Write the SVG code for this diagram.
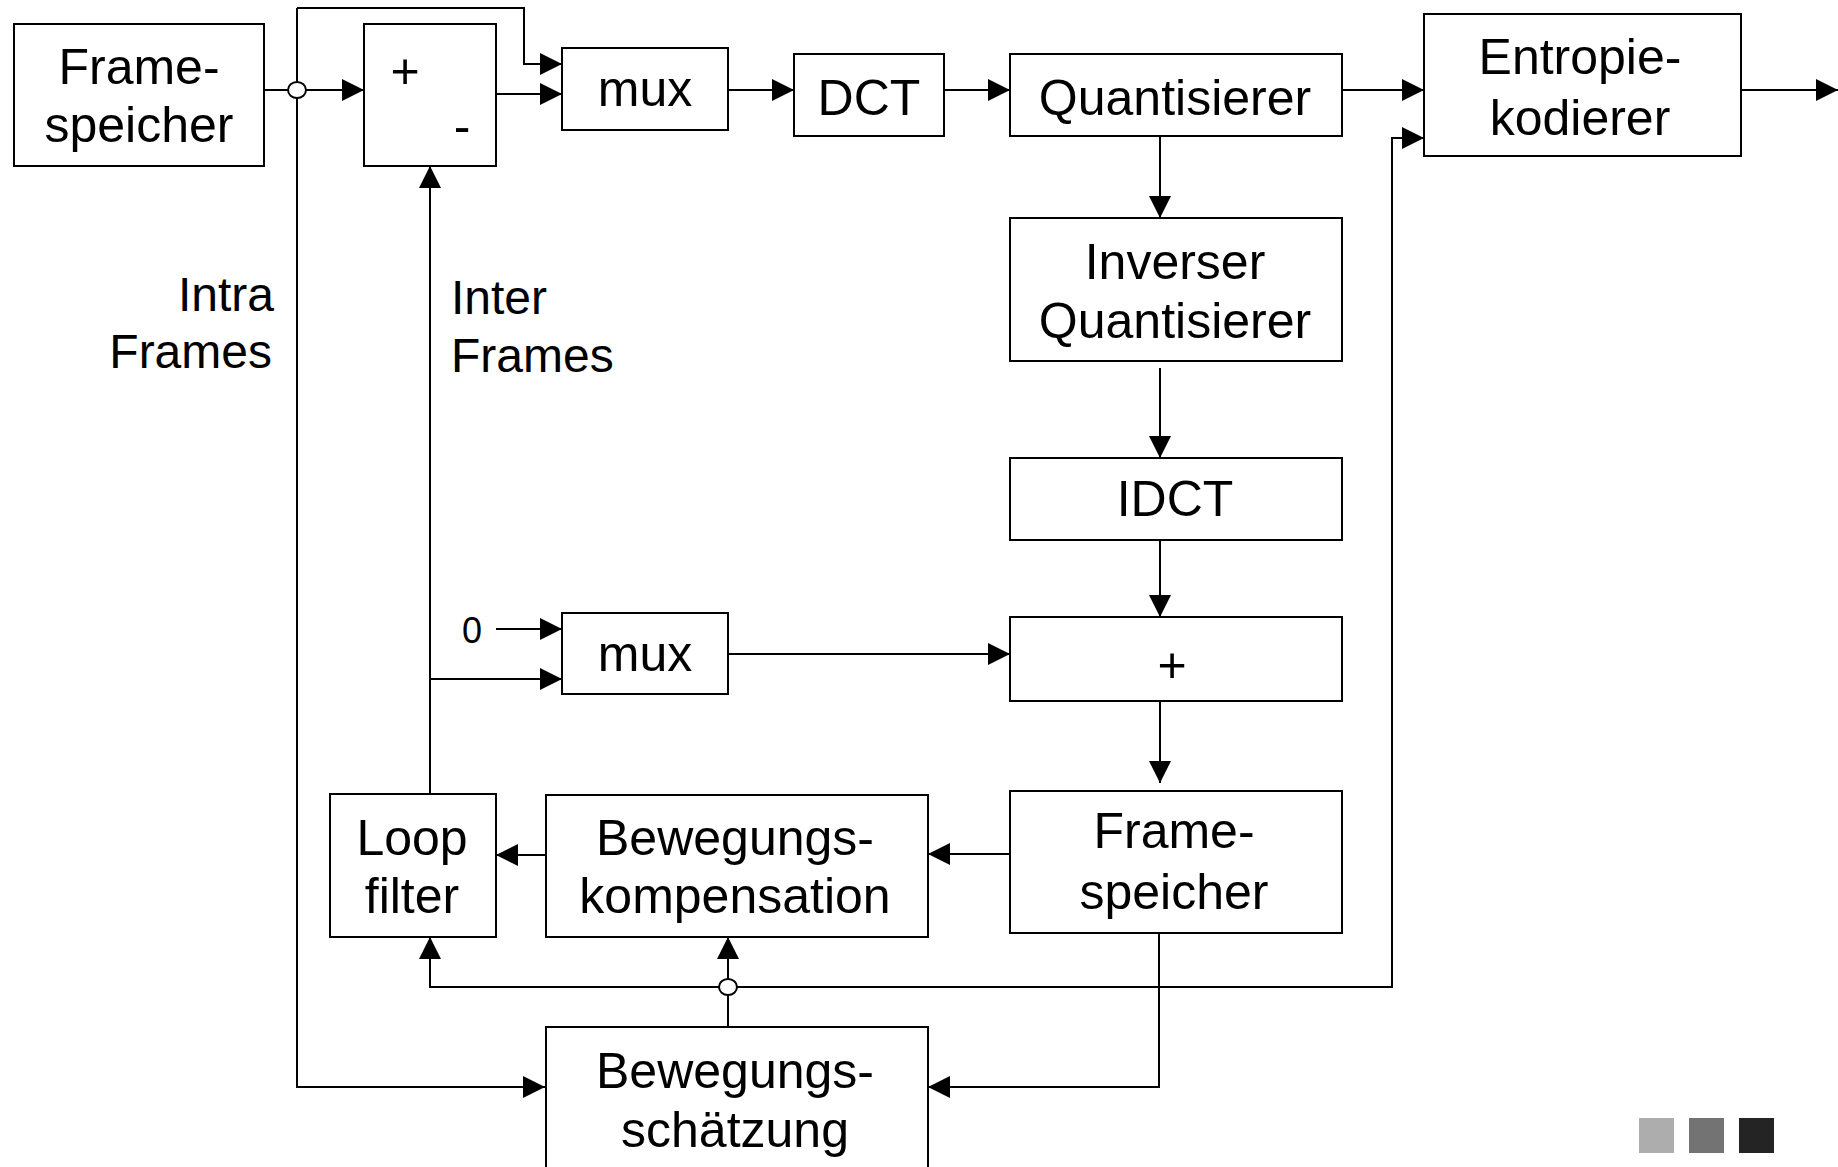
<svg xmlns="http://www.w3.org/2000/svg" width="1838" height="1167" viewBox="0 0 1838 1167">
  <defs>
    <marker id="arrow" markerUnits="userSpaceOnUse" viewBox="0 0 22 22" refX="22" refY="11" markerWidth="22" markerHeight="22" orient="auto">
      <path d="M0,0 L22,11 L0,22 z" fill="#000"/>
    </marker>
    <style>
      .box { fill: #fff; stroke: #000; stroke-width: 2; }
      .wire { fill: none; stroke: #000; stroke-width: 2; marker-end: url(#arrow); }
      .dot { fill: #fff; stroke: #000; stroke-width: 2; }
      text { font-family: "Liberation Sans", Arial, sans-serif; font-size: 50px; fill: #000; }
      .c { text-anchor: middle; }
      .small { font-size: 36px; }
      .label { font-size: 48px; }
    </style>
  </defs>
  <rect width="1838" height="1167" fill="#fff"/>

  <!-- connectors -->
  <g id="connectors">
    <path class="wire" d="M264,90 H364"/>
    <path class="wire" d="M297,8 V1087 H545"/>
    <path class="wire" d="M297,8 H524 V64 H562"/>
    <path class="wire" d="M496,94 H562"/>
    <path class="wire" d="M728,90 H794"/>
    <path class="wire" d="M944,90 H1010"/>
    <path class="wire" d="M1342,90 H1424"/>
    <path class="wire" d="M1741,90 H1838"/>
    <path class="wire" d="M1160,136 V218"/>
    <path class="wire" d="M1160,368 V458"/>
    <path class="wire" d="M1160,540 V617"/>
    <path class="wire" d="M1160,701 V783"/>
    <path class="wire" d="M1010,854 H928"/>
    <path class="wire" d="M546,855 H496"/>
    <path class="wire" d="M430,794 V166"/>
    <path class="wire" d="M430,679 H562"/>
    <path class="wire" d="M496,629 H562"/>
    <path class="wire" d="M728,654 H1010"/>
    <path class="wire" d="M1159,933 V1087 H928"/>
    <path class="wire" d="M728,987 H430 V937"/>
    <path class="wire" d="M728,987 H1392 V138 H1424"/>
    <path class="wire" d="M728,1027 V937"/>
    <ellipse class="dot" cx="297" cy="90" rx="9" ry="8"/>
    <ellipse class="dot" cx="728" cy="987" rx="9" ry="8"/>
  </g>

  <g id="framespeicher-in">
    <rect class="box" x="14" y="24" width="250" height="142"/>
    <text class="c" x="139" y="84">Frame-</text>
    <text class="c" x="139" y="142">speicher</text>
  </g>

  <g id="subtractor">
    <rect class="box" x="364" y="24" width="132" height="142"/>
    <text class="c" x="405" y="88">+</text>
    <text class="c" x="462" y="143">-</text>
  </g>

  <g id="mux-top">
    <rect class="box" x="562" y="48" width="166" height="82"/>
    <text class="c" x="645" y="106">mux</text>
  </g>

  <g id="dct">
    <rect class="box" x="794" y="54" width="150" height="82"/>
    <text class="c" x="869" y="115">DCT</text>
  </g>

  <g id="quantisierer">
    <rect class="box" x="1010" y="54" width="332" height="82"/>
    <text class="c" x="1175" y="115">Quantisierer</text>
  </g>

  <g id="entropiekodierer">
    <rect class="box" x="1424" y="14" width="317" height="142"/>
    <text class="c" x="1580" y="74">Entropie-</text>
    <text class="c" x="1580" y="135">kodierer</text>
  </g>

  <g id="inverser-quantisierer">
    <rect class="box" x="1010" y="218" width="332" height="143"/>
    <text class="c" x="1175" y="279">Inverser</text>
    <text class="c" x="1175" y="338">Quantisierer</text>
  </g>

  <g id="idct">
    <rect class="box" x="1010" y="458" width="332" height="82"/>
    <text class="c" x="1175" y="516">IDCT</text>
  </g>

  <g id="adder">
    <rect class="box" x="1010" y="617" width="332" height="84"/>
    <text class="c" x="1172" y="682">+</text>
  </g>

  <g id="mux-bottom">
    <rect class="box" x="562" y="613" width="166" height="81"/>
    <text class="c" x="645" y="671">mux</text>
  </g>

  <g id="zero-input">
    <text class="c small" x="472" y="643">0</text>
  </g>

  <g id="framespeicher-loop">
    <rect class="box" x="1010" y="791" width="332" height="142"/>
    <text class="c" x="1174" y="848">Frame-</text>
    <text class="c" x="1174" y="909">speicher</text>
  </g>

  <g id="bewegungskompensation">
    <rect class="box" x="546" y="795" width="382" height="142"/>
    <text class="c" x="735" y="855">Bewegungs-</text>
    <text class="c" x="735" y="913">kompensation</text>
  </g>

  <g id="loopfilter">
    <rect class="box" x="330" y="794" width="166" height="143"/>
    <text class="c" x="412" y="855">Loop</text>
    <text class="c" x="412" y="913">filter</text>
  </g>

  <g id="bewegungsschaetzung">
    <rect class="box" x="546" y="1027" width="382" height="160"/>
    <text class="c" x="735" y="1088">Bewegungs-</text>
    <text class="c" x="735" y="1147">schätzung</text>
  </g>

  <g id="labels">
    <text class="label" x="274" y="311" text-anchor="end">Intra</text>
    <text class="label" x="272" y="368" text-anchor="end">Frames</text>
    <text class="label" x="451" y="314" >Inter</text>
    <text class="label" x="451" y="372">Frames</text>
  </g>

  <g id="swatches">
    <rect x="1639" y="1118" width="35" height="35" fill="#adadad"/>
    <rect x="1689" y="1118" width="35" height="35" fill="#737373"/>
    <rect x="1739" y="1118" width="35" height="35" fill="#242424"/>
  </g>
</svg>
